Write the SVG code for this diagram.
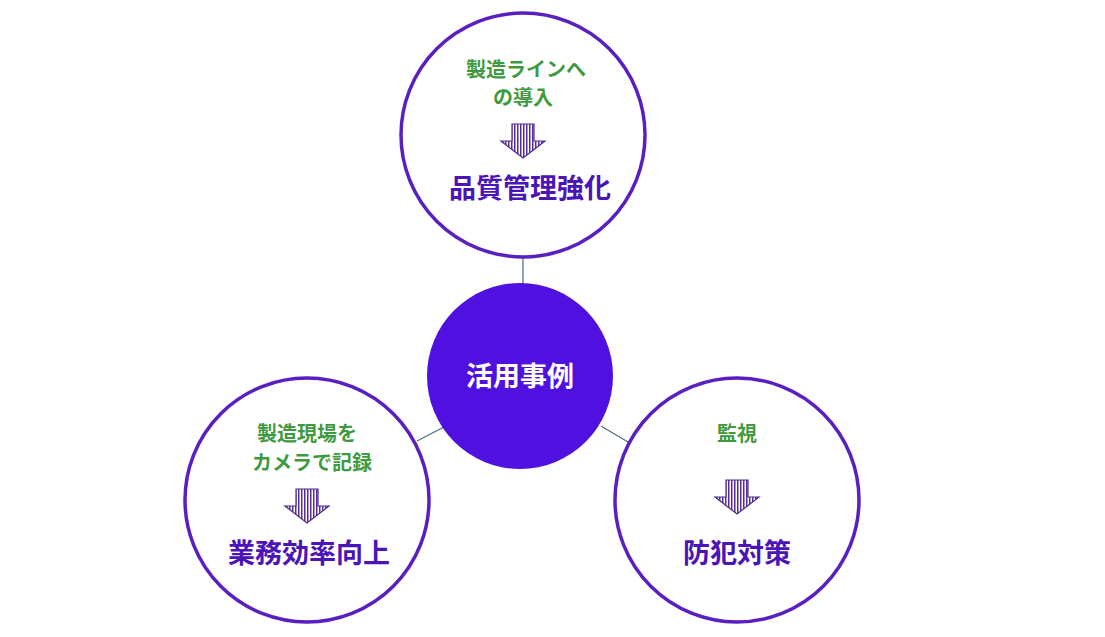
<svg xmlns="http://www.w3.org/2000/svg" width="1105" height="637" viewBox="0 0 1105 637">
<defs>
<pattern id="st" width="3" height="4" patternUnits="userSpaceOnUse"><rect width="3" height="4" fill="#fff"/><rect width="1.5" height="4" fill="#5a2a9a"/></pattern>
<g id="arr"><path d="M-11,0 H11 V17 H22 L0,34 L-22,17 H-11 Z" fill="url(#st)" stroke="#4b2a8a" stroke-width="1.2"/></g>
</defs>
<style>
.c{fill:#fff;stroke:#5a1fc0;stroke-width:3.5}
.g{font-family:"Noto Sans CJK JP",sans-serif;font-size:20px;fill:#3f9a3f;text-anchor:middle;font-weight:bold}
.p{font-family:"Noto Sans CJK JP",sans-serif;font-size:27px;fill:#4a14b8;text-anchor:middle;font-weight:bold}
.l{stroke:#4a6a80;stroke-width:1.2}
</style>
<rect width="1105" height="637" fill="#fff"/>
<g id="connectors">
<line class="l" x1="523" y1="258" x2="523" y2="285"/>
<line class="l" x1="417" y1="441" x2="444" y2="427"/>
<line class="l" x1="601" y1="426" x2="628" y2="442"/>
</g>
<g id="center"><circle cx="520" cy="376" r="93" fill="#5010e0"/><text x="520" y="386" font-family="Noto Sans CJK JP,sans-serif" font-size="27" font-weight="bold" fill="#fff" text-anchor="middle">活用事例</text></g>
<g id="top"><circle class="c" cx="523" cy="135" r="122"/>
<text class="g" x="526" y="77">製造ラインへ</text><text class="g" x="523" y="105">の導入</text>
<use href="#arr" x="523" y="124"/>
<text class="p" x="530" y="198">品質管理強化</text></g>
<g id="left"><circle class="c" cx="307" cy="500" r="122"/>
<text class="g" x="307" y="441">製造現場を</text><text class="g" x="312" y="470">カメラで記録</text>
<use href="#arr" x="307" y="489"/>
<text class="p" x="309" y="563">業務効率向上</text></g>
<g id="right"><circle class="c" cx="737" cy="500" r="122"/>
<text class="g" x="737" y="441">監視</text>
<use href="#arr" x="737" y="480"/>
<text class="p" x="737" y="563">防犯対策</text></g>
</svg>
